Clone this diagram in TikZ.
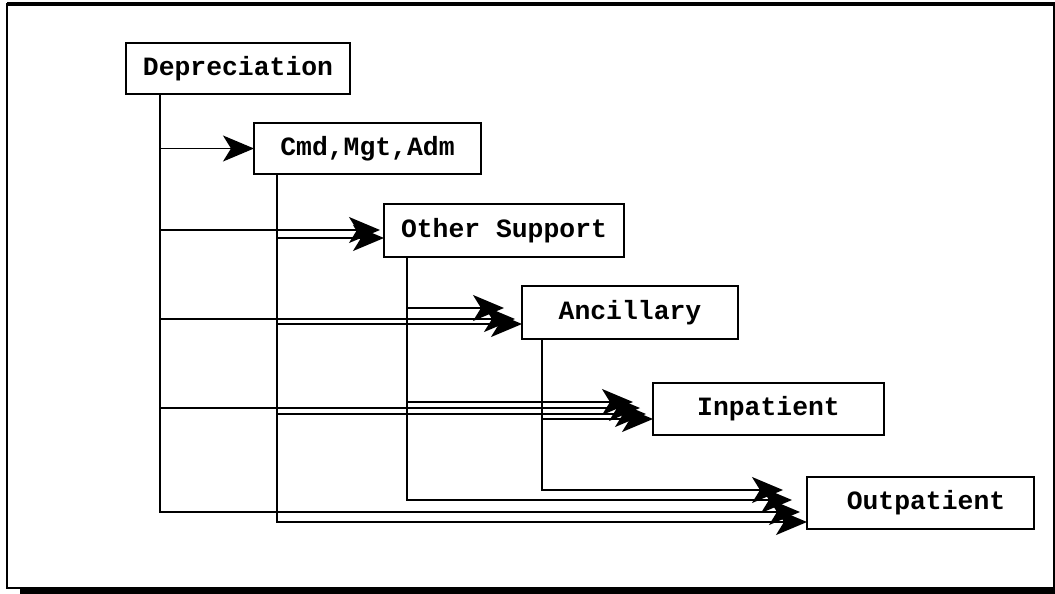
\documentclass[tikz,border=0pt]{standalone}
\usepackage{fontspec}
\setmonofont{Liberation Mono}
\usetikzlibrary{arrows.meta}
\begin{document}
\begin{tikzpicture}[x=1pt,y=-1pt,
  box/.style={draw,line width=1.8pt,rectangle,inner sep=0pt,outer sep=0pt,
    font=\ttfamily\bfseries\fontsize{26.4}{30}\selectfont},
  conn/.style={line width=1.7pt,-{Stealth[length=31pt,width=26pt,inset=8pt]}},
  frame/.style={line width=1.5pt}
]
\useasboundingbox (0,0) rectangle (1055,594);
% outer frame
\draw[frame] (7,4) rectangle (1054,588);
\fill (7,2) rectangle (1055,6);
\fill (20,587) rectangle (1055,594);

% boxes
\node[box,minimum width=224pt,minimum height=51pt] (dep) at (238,68.5) {Depreciation};
\node[box,minimum width=227pt,minimum height=51pt] (cmd) at (367.5,148.5) {Cmd,Mgt,Adm};
\node[box,minimum width=240pt,minimum height=53pt] (oth) at (504,230.5) {Other Support};
\node[box,minimum width=216pt,minimum height=53pt] (anc) at (630,312.5) {Ancillary};
\node[box,minimum width=231pt,minimum height=52pt] (inp) at (768.5,409) {Inpatient};
\node[box,minimum width=227pt,minimum height=52pt] (out) at (920.5,503) {\hspace*{11pt}Outpatient};

% to Cmd
\draw[conn] ([xshift=34pt]dep.south west) |- (cmd.west);
% to Other Support
\draw[conn,shorten >=4pt] ([xshift=34pt]dep.south west) |- ([yshift=0.5pt]oth.west);
\draw[conn] ([xshift=23pt]cmd.south west) |- ([yshift=-7.5pt]oth.west);
% to Ancillary
\draw[conn,shorten >=18pt] ([xshift=23pt]oth.south west) |- ([yshift=4.5pt]anc.west);
\draw[conn,shorten >=7pt] ([xshift=34pt]dep.south west) |- ([yshift=-6.5pt]anc.west);
\draw[conn] ([xshift=23pt]cmd.south west) |- ([yshift=-11.5pt]anc.west);
% to Inpatient
\draw[conn,shorten >=20pt] ([xshift=23pt]oth.south west) |- ([yshift=7pt]inp.west);
\draw[conn,shorten >=13pt] ([xshift=34pt]dep.south west) |- ([yshift=1pt]inp.west);
\draw[conn,shorten >=7pt] ([xshift=23pt]cmd.south west) |- ([yshift=-5pt]inp.west);
\draw[conn] ([xshift=20pt]anc.south west) |- ([yshift=-10pt]inp.west);
% to Outpatient
\draw[conn,shorten >=24pt] ([xshift=20pt]anc.south west) |- ([yshift=13pt]out.west);
\draw[conn,shorten >=15pt] ([xshift=23pt]oth.south west) |- ([yshift=3pt]out.west);
\draw[conn,shorten >=7pt] ([xshift=34pt]dep.south west) |- ([yshift=-9pt]out.west);
\draw[conn] ([xshift=23pt]cmd.south west) |- ([yshift=-19pt]out.west);
\end{tikzpicture}
\end{document}
